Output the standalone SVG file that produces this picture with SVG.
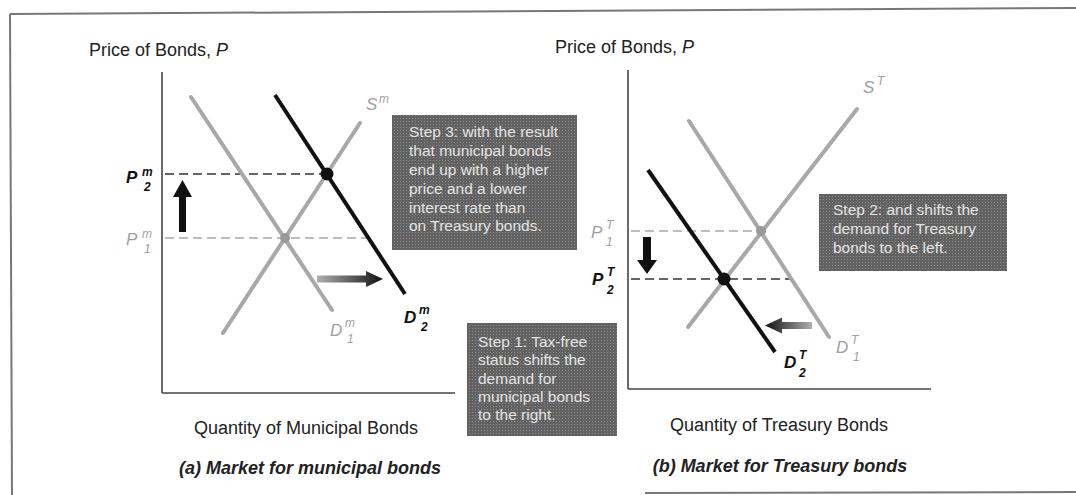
<svg xmlns="http://www.w3.org/2000/svg" width="1076" height="495" viewBox="0 0 1076 495">
<defs>
<pattern id="ht" width="3" height="3" patternUnits="userSpaceOnUse">
<rect width="3" height="3" fill="#626262"/>
<rect x="1" y="1" width="1" height="1" fill="#8c8c8c"/>
</pattern>
<linearGradient id="gr" x1="0" y1="0" x2="1" y2="0">
<stop offset="0" stop-color="#b0b0b0"/>
<stop offset="1" stop-color="#111"/>
</linearGradient>
<linearGradient id="gl" x1="1" y1="0" x2="0" y2="0">
<stop offset="0" stop-color="#b0b0b0"/>
<stop offset="1" stop-color="#111"/>
</linearGradient>
<style>
.t{font-family:"Liberation Sans",Arial,sans-serif;fill:#222}
.ax{font-size:18px}
.cap{font-size:18px;font-weight:bold;font-style:italic}
.box{fill:url(#ht)}
.bt{font-family:"Liberation Sans",Arial,sans-serif;font-size:15.5px;fill:#e4e4e4}
.axis{stroke:#444;stroke-width:1.6;fill:none}
.old{stroke:#a8a8a8;stroke-width:4;stroke-linecap:round;fill:none}
.new{stroke:#111;stroke-width:4;fill:none}
.dk{stroke:#333;stroke-width:1.6;stroke-dasharray:9 5;fill:none}
.dg{stroke:#a8a8a8;stroke-width:1.6;stroke-dasharray:9 5;fill:none}
.lb{font-family:"Liberation Sans",Arial,sans-serif;font-style:italic}
.big{font-size:17px}
.sm{font-size:12px}
.gray{fill:#a0a0a0}
.blk{fill:#111;font-weight:bold}
.frame{stroke:#777;stroke-width:2;fill:none}
</style>
</defs>
<rect width="1076" height="495" fill="#fff"/>
<g id="frame">
<line class="frame" x1="10" y1="14" x2="1076" y2="8"/>
<line class="frame" x1="10" y1="14" x2="12" y2="495"/>
<line class="frame" x1="645" y1="493" x2="1076" y2="492"/>
</g>
<g id="panel-a">
<text class="t ax" x="89" y="56">Price of Bonds, <tspan font-style="italic">P</tspan></text>
<line class="axis" x1="162" y1="72" x2="162" y2="393"/>
<line class="axis" x1="162" y1="393" x2="455" y2="393"/>
<text class="t ax" x="306" y="434" text-anchor="middle">Quantity of Municipal Bonds</text>
<text class="t cap" x="310" y="474" text-anchor="middle">(a) Market for municipal bonds</text>
<g id="connectors-a">
<line class="dg" x1="165" y1="238" x2="366" y2="238"/>
<line class="dk" x1="165" y1="174" x2="327" y2="174"/>
<line class="old" x1="191" y1="97" x2="332" y2="310"/>
<line class="old" x1="223" y1="333" x2="360" y2="123"/>
<line class="new" x1="275" y1="95" x2="405" y2="294"/>
<circle cx="285" cy="238" r="5" fill="#999"/>
<circle cx="327" cy="174" r="6.5" fill="#111"/>
<path d="M179,232 H186 V197 H192 L182.5,180 L173,197 H179 Z" fill="#111"/>
<path d="M317,275.5 H366 V271 L383,279 L366,287 V282.5 H317 Z" fill="url(#gr)"/>
</g>
<g id="labels-a">
<text class="lb big blk" x="126" y="183">P</text>
<text class="lb sm blk" x="142" y="176">m</text>
<text class="lb sm blk" x="144" y="191" font-style="normal">2</text>
<text class="lb big gray" x="126" y="245">P</text>
<text class="lb sm gray" x="142" y="238">m</text>
<text class="lb sm gray" x="144" y="253" font-style="normal">1</text>
<text class="lb big gray" x="366" y="110">S</text>
<text class="lb sm gray" x="379" y="103">m</text>
<text class="lb big gray" x="330" y="336">D</text>
<text class="lb sm gray" x="345" y="327">m</text>
<text class="lb sm gray" x="347" y="343" font-style="normal">1</text>
<text class="lb big blk" x="404" y="323">D</text>
<text class="lb sm blk" x="419" y="314">m</text>
<text class="lb sm blk" x="421" y="331" font-style="normal">2</text>
</g>
<g id="step3">
<rect class="box" x="392" y="115" width="185" height="135"/>
<text class="bt" x="409" y="137">Step 3: with the result</text>
<text class="bt" x="409" y="156">that municipal bonds</text>
<text class="bt" x="409" y="175">end up with a higher</text>
<text class="bt" x="409" y="194">price and a lower</text>
<text class="bt" x="409" y="213">interest rate than</text>
<text class="bt" x="409" y="231">on Treasury bonds.</text>
</g>
<g id="step1">
<rect class="box" x="467" y="323" width="150" height="113"/>
<text class="bt" x="478" y="347">Step 1: Tax-free</text>
<text class="bt" x="478" y="365">status shifts the</text>
<text class="bt" x="478" y="384">demand for</text>
<text class="bt" x="478" y="402">municipal bonds</text>
<text class="bt" x="478" y="420">to the right.</text>
</g>
</g>
<g id="panel-b">
<text class="t ax" x="555" y="53">Price of Bonds, <tspan font-style="italic">P</tspan></text>
<line class="axis" x1="628" y1="70" x2="628" y2="389"/>
<line class="axis" x1="628" y1="389" x2="931" y2="389"/>
<text class="t ax" x="779" y="431" text-anchor="middle">Quantity of Treasury Bonds</text>
<text class="t cap" x="780" y="472" text-anchor="middle">(b) Market for Treasury bonds</text>
<g id="connectors-b">
<line class="dg" x1="631" y1="231" x2="761" y2="231"/>
<line class="dk" x1="631" y1="279" x2="793" y2="279"/>
<line class="old" x1="689" y1="121" x2="829" y2="337"/>
<line class="old" x1="688" y1="327" x2="857" y2="109"/>
<line class="new" x1="648" y1="170" x2="775" y2="352"/>
<circle cx="761" cy="231" r="5" fill="#999"/>
<circle cx="724" cy="279" r="6.5" fill="#111"/>
<path d="M643,237 H651 V260 H657 L647,274 L637,260 H643 Z" fill="#111"/>
<path d="M812,322 H782 V317.5 L765,325.5 L782,333.5 V329 H812 Z" fill="url(#gl)"/>
</g>
<g id="labels-b">
<text class="lb big gray" x="863" y="93">S</text>
<text class="lb sm gray" x="877" y="85">T</text>
<text class="lb big gray" x="591" y="238">P</text>
<text class="lb sm gray" x="606" y="229">T</text>
<text class="lb sm gray" x="606" y="246" font-style="normal">1</text>
<text class="lb big blk" x="592" y="285">P</text>
<text class="lb sm blk" x="607" y="276">T</text>
<text class="lb sm blk" x="607" y="294" font-style="normal">2</text>
<text class="lb big blk" x="784" y="368">D</text>
<text class="lb sm blk" x="799" y="359">T</text>
<text class="lb sm blk" x="799" y="377" font-style="normal">2</text>
<text class="lb big gray" x="836" y="353">D</text>
<text class="lb sm gray" x="851" y="344">T</text>
<text class="lb sm gray" x="853" y="361" font-style="normal">1</text>
</g>
<g id="step2">
<rect class="box" x="819" y="194" width="188" height="77"/>
<text class="bt" x="833" y="215">Step 2: and shifts the</text>
<text class="bt" x="833" y="234">demand for Treasury</text>
<text class="bt" x="833" y="253">bonds to the left.</text>
</g>
</g>
</svg>
